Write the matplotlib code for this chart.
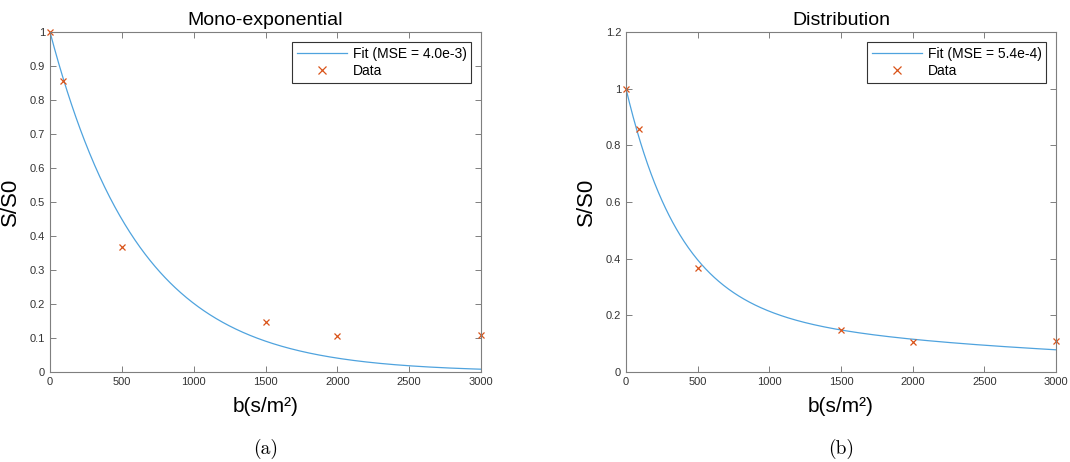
import numpy as np
import matplotlib.pyplot as plt
from matplotlib.ticker import FuncFormatter

plt.rcParams['font.family'] = ['Liberation Sans', 'DejaVu Sans']

# measured signal decay
b_vals = [0, 90, 500, 1500, 2000, 3000]
signal = [1.0, 0.856, 0.367, 0.147, 0.106, 0.110]

# fitted model parameters
adc_mono = 0.0016                 # mono-exponential: exp(-b*D)
frac_fast, d_fast = 0.77, 0.00266  # two-pool diffusivity distribution
frac_slow, d_slow = 0.23, 0.00036

mse_labels = ['Fit (MSE = 4.0e-3)', 'Fit (MSE = 5.4e-4)']
titles = ['Mono-exponential', 'Distribution']
captions = ['(a)', '(b)']
y_ticks = [np.arange(0, 1.01, 0.1), np.arange(0, 1.21, 0.2)]
y_tops = [1.0, 1.2]

b_fit = np.linspace(0, 3000, 600)
fits = [np.exp(-adc_mono * b_fit),
        frac_fast * np.exp(-d_fast * b_fit) + frac_slow * np.exp(-d_slow * b_fit)]

line_col = '#4fa3de'
mark_col = '#d95319'
axis_col = '#7f7f7f'

fig = plt.figure(figsize=(10.7, 4.62), dpi=100)
positions = [[50 / 1070, 90 / 462, 431 / 1070, 340 / 462],
             [626 / 1070, 90 / 462, 430 / 1070, 340 / 462]]

fmt = FuncFormatter(lambda v, p: '%g' % round(v, 3))

for i in range(2):
    ax = fig.add_axes(positions[i])
    ax.plot(b_fit, fits[i], color=line_col, lw=0.9, label=mse_labels[i])
    ax.plot(b_vals, signal, 'x', color=mark_col, ms=5, mew=0.9, label='Data',
            clip_on=False)
    ax.set_xlim(0, 3000)
    ax.set_ylim(0, y_tops[i])
    ax.set_xticks(np.arange(0, 3001, 500))
    ax.set_yticks(y_ticks[i])
    ax.yaxis.set_major_formatter(fmt)
    ax.tick_params(direction='in', top=True, right=True, length=4,
                   width=0.7, color=axis_col, labelsize=8, labelcolor='#333333')
    for s in ax.spines.values():
        s.set_color(axis_col)
        s.set_linewidth(0.8)
    ax.set_title(titles[i], fontsize=14, pad=5)
    ax.set_xlabel('b(s/m²)', fontsize=15, labelpad=7)
    ax.set_ylabel('S/S0', fontsize=16, labelpad=6)
    leg = ax.legend(loc='upper right', fontsize=10, fancybox=False,
                    framealpha=1, borderaxespad=0.7, handlelength=3.6,
                    handletextpad=0.4, borderpad=0.35, labelspacing=0.25,
                    markerscale=1.2)
    leg.get_frame().set_edgecolor('#333333')
    leg.get_frame().set_linewidth(0.8)
    fig.text(positions[i][0] + positions[i][2] / 2, 13 / 462, captions[i],
             ha='center', va='center', fontsize=14, family='cmr10')

fig.savefig('out.png', dpi=100)
